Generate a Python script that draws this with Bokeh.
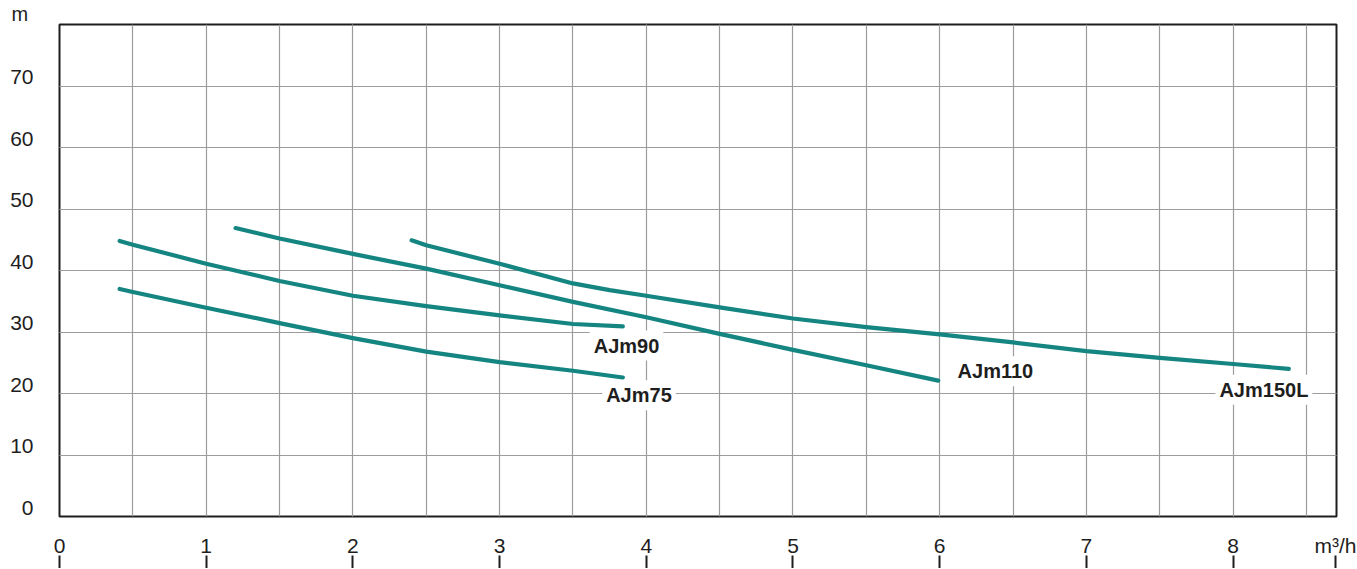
from bokeh.plotting import figure
from bokeh.models import Range1d, LinearAxis, FixedTicker, Label, Grid
from bokeh.embed import file_html
from bokeh.resources import INLINE

# ---- data (flow m3/h, head m) ----
ajm75_q = [0.41, 0.5, 1.0, 1.5, 2.0, 2.5, 3.0, 3.5, 3.84]
ajm75_h = [37.0, 36.5, 33.95, 31.45, 29.0, 26.8, 25.1, 23.7, 22.6]

ajm90_q = [0.41, 0.5, 1.0, 1.5, 2.0, 2.5, 3.0, 3.5, 3.84]
ajm90_h = [44.8, 44.2, 41.1, 38.3, 35.9, 34.2, 32.7, 31.3, 30.9]

ajm110_q = [1.2, 1.5, 2.0, 2.5, 3.0, 3.5, 4.0, 4.5, 5.0, 5.5, 5.99]
ajm110_h = [46.9, 45.2, 42.7, 40.3, 37.6, 34.9, 32.4, 29.7, 27.1, 24.6, 22.1]

ajm150l_q = [2.4, 2.5, 3.0, 3.5, 3.75, 4.0, 4.5, 5.0, 5.5, 6.0, 6.5, 7.0, 7.5, 8.0, 8.38]
ajm150l_h = [44.9, 44.1, 41.1, 37.9, 36.8, 35.9, 34.0, 32.2, 30.8, 29.6, 28.3, 26.9, 25.8, 24.8, 24.0]

series_names = ["AJm90", "AJm75", "AJm110", "AJm150L"]

x_tick_values = [0, 1, 2, 3, 4, 5, 6, 7, 8]
x_unit_label = "m\u00b3/h"
y_tick_values = [0, 10, 20, 30, 40, 50, 60, 70]
y_unit_label = "m"
x_grid_values = [0.5, 1, 1.5, 2, 2.5, 3, 3.5, 4, 4.5, 5, 5.5, 6, 6.5, 7, 7.5, 8, 8.5]

# ---- style / layout ----
CURVE = "#158581"
GRID = "#9c9c9c"
DARK = "#1e1e1e"
FONT = "Liberation Sans"
X_END = 8.705
Y_END = 80
LABEL_SHIFT = 1.4
X_UNIT_POS = 8.7

p = figure(width=1356, height=568,
           x_range=Range1d(0, X_END), y_range=Range1d(0, Y_END),
           output_backend="svg", toolbar_location=None,
           x_axis_location=None, y_axis_location=None,
           min_border_left=59, min_border_right=20,
           min_border_top=24, min_border_bottom=52)
p.outline_line_color = DARK
p.outline_line_width = 2
p.background_fill_color = "white"

# "m" unit above the y labels
p.title.text = y_unit_label
p.title.align = "left"
p.title.offset = -48
p.title.standoff = 0
p.title.text_font = FONT
p.title.text_font_size = "20px"
p.title.text_font_style = "normal"
p.title.text_color = DARK

# grids
p.add_layout(Grid(dimension=0, ticker=FixedTicker(ticks=x_grid_values),
                  grid_line_color=GRID, grid_line_width=1.2))
p.add_layout(Grid(dimension=1, ticker=FixedTicker(ticks=y_tick_values[1:]),
                  grid_line_color=GRID, grid_line_width=1.2))

# y labels (sit just above their grid lines)
p.extra_y_ranges = {"lab": Range1d(-LABEL_SHIFT, Y_END - LABEL_SHIFT)}
yax = LinearAxis(y_range_name="lab", ticker=FixedTicker(ticks=y_tick_values),
                 axis_line_color=None, major_tick_line_color=None,
                 minor_tick_line_color=None, major_tick_in=0, major_tick_out=0,
                 major_label_standoff=26, major_label_text_font=FONT,
                 major_label_text_font_size="21px", major_label_text_color=DARK)
p.add_layout(yax, "left")

# x labels, with short tick marks drawn below them (dashed long ticks:
# only the outer 13px of each tick is visible)
xax = LinearAxis(ticker=FixedTicker(ticks=x_tick_values + [X_UNIT_POS]),
                 major_label_overrides={X_UNIT_POS: x_unit_label},
                 axis_line_color=None,
                 major_tick_line_color=DARK, major_tick_line_width=2,
                 major_tick_line_dash="13 80",
                 major_tick_in=0, major_tick_out=52,
                 minor_tick_line_color=None,
                 major_label_standoff=-35, major_label_text_font=FONT,
                 major_label_text_font_size="21px", major_label_text_color=DARK)
p.add_layout(xax, "below")

# curves
for q, h in [(ajm75_q, ajm75_h), (ajm90_q, ajm90_h),
             (ajm110_q, ajm110_h), (ajm150l_q, ajm150l_h)]:
    p.line(q, h, line_color=CURVE, line_width=4.2, line_cap="round",
           line_join="round")

# curve labels
label_pos = [(3.865, 27.8), (3.95, 19.7), (6.38, 23.6), (8.21, 20.6)]
for name, (lx, ly) in zip(series_names, label_pos):
    p.add_layout(Label(x=lx, y=ly, text=name, text_font=FONT,
                       text_font_size="20px", text_font_style="bold",
                       text_color=DARK, text_align="center",
                       text_baseline="middle",
                       background_fill_color="white", padding=4))

open("out.html", "w").write(file_html(p, INLINE))
